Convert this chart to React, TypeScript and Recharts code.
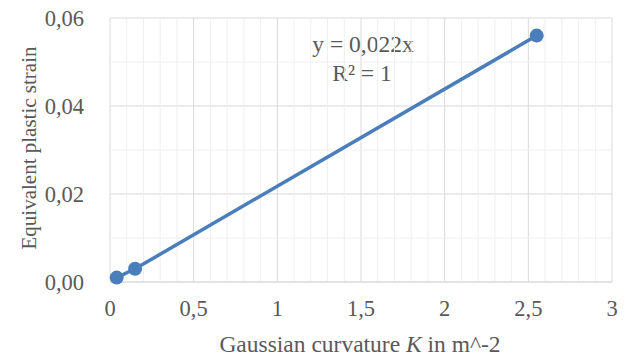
import { ScatterChart, Scatter, XAxis, YAxis, CartesianGrid, ReferenceLine, Label } from 'recharts'

const curvature = [0.04, 0.15, 2.55]
const strain = [0.001, 0.003, 0.056]
const xTicks = [0, 0.5, 1, 1.5, 2, 2.5, 3]
const yTicks = [0, 0.02, 0.04, 0.06]
const xMinor = [0.1, 0.2, 0.3, 0.4, 0.6, 0.7, 0.8, 0.9, 1.1, 1.2, 1.3, 1.4, 1.6, 1.7, 1.8, 1.9, 2.1, 2.2, 2.3, 2.4, 2.6, 2.7, 2.8, 2.9]
const yMinor = [0.01, 0.03, 0.05]

const points = curvature.map((k, i) => ({ k, eps: strain[i] }))

const font = '"Liberation Serif", "Times New Roman", serif'
const textColor = '#595959'
const blue = '#4a7ebb'

const fmt = (d: number) => (v: number) => v.toFixed(d).replace('.', ',')
const fmtX = (v: number) => String(v).replace('.', ',')

const Dot = (props: any) => <circle cx={props.cx} cy={props.cy} r={7} fill={blue} />

export default function App() {
  return (
    <div style={{ position: 'absolute', left: 0, top: 0, background: '#fff' }}>
      <ScatterChart width={629} height={358} margin={{ top: 18, right: 17, bottom: 0, left: 0 }}>
        {xMinor.map(v => <ReferenceLine key={'x' + v} x={v} stroke="#efefef" strokeWidth={1} />)}
        {yMinor.map(v => <ReferenceLine key={'y' + v} y={v} stroke="#efefef" strokeWidth={1} />)}
        <CartesianGrid stroke="#d9d9d9" strokeWidth={1} />
        <XAxis type="number" dataKey="k" domain={[0, 3]} ticks={xTicks} tickFormatter={fmtX}
          axisLine={{ stroke: '#d9d9d9' }} tickLine={false} height={76} tickMargin={12}
          tick={{ fill: textColor, fontSize: 22.5, fontFamily: font }}>
          <Label position="insideBottom" content={() => (
            <text x={360} y={352} textAnchor="middle" fill={textColor} fontSize={23.5} fontFamily={font}>
              Gaussian curvature <tspan fontStyle="italic">K</tspan> in m^-2
            </text>
          )} />
        </XAxis>
        <YAxis type="number" dataKey="eps" domain={[0, 0.06]} ticks={yTicks} tickFormatter={fmt(2)}
          axisLine={false} tickLine={false} width={110} tickMargin={20}
          tick={{ fill: textColor, fontSize: 22.5, fontFamily: font }}>
          <Label position="insideLeft" content={() => (
            <text x={0} y={0} transform="translate(36, 148) rotate(-90)" textAnchor="middle"
              fill={textColor} fontSize={21} fontFamily={font}>Equivalent plastic strain</text>
          )} />
        </YAxis>
        <Scatter data={points} fill={blue} line={{ stroke: blue, strokeWidth: 3.5 }} shape={<Dot />} isAnimationActive={false} />
        <text x={363} y={52} textAnchor="middle" fill={textColor} fontSize={23.5} fontFamily={font}>y = 0,022x</text>
        <text x={362} y={81} textAnchor="middle" fill={textColor} fontSize={23.5} fontFamily={font}>R² = 1</text>
      </ScatterChart>
    </div>
  )
}
